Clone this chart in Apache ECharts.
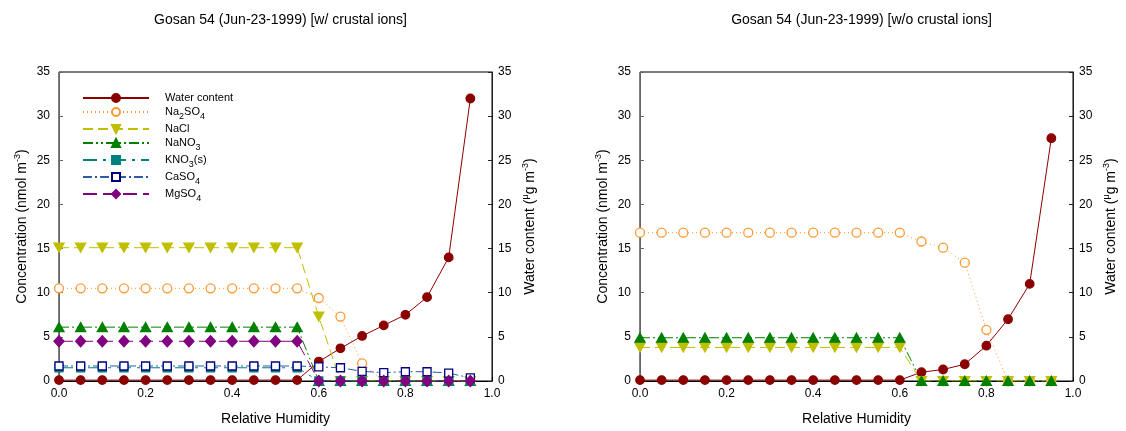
<!DOCTYPE html>
<html>
<head>
<meta charset="utf-8">
<script src="https://cdn.jsdelivr.net/npm/echarts@6/dist/echarts.min.js"></script>
<style>html,body{margin:0;padding:0;background:#fff}#c{width:1126px;height:431px}</style>
</head>
<body>
<div id="c"></div>
<script>
// Relative humidity (x values)
var rh = [0.00,0.05,0.10,0.15,0.20,0.25,0.30,0.35,0.40,0.45,0.50,0.55,0.60,0.65,0.70,0.75,0.80,0.85,0.90,0.95];
var xTicks = [0.0,0.2,0.4,0.6,0.8,1.0];
var yTicks = [0,5,10,15,20,25,30,35];

// Left panel: with crustal ions
var L_water  = [0.1,0.1,0.1,0.1,0.1,0.1,0.1,0.1,0.1,0.1,0.1,0.1,2.2,3.7,5.1,6.3,7.5,9.5,14.0,32.0];
var L_na2so4 = [10.5,10.5,10.5,10.5,10.5,10.5,10.5,10.5,10.5,10.5,10.5,10.5,9.4,7.3,2.0,0,0,0,0,0];
var L_nacl   = [15.1,15.1,15.1,15.1,15.1,15.1,15.1,15.1,15.1,15.1,15.1,15.1,7.3,0,0,0,0,0,0,0];
var L_nano3  = [6.1,6.1,6.1,6.1,6.1,6.1,6.1,6.1,6.1,6.1,6.1,6.1,0,0,0,0,0,0,0,0];
var L_kno3   = [1.5,1.5,1.5,1.5,1.5,1.5,1.5,1.5,1.5,1.5,1.5,1.5,0,0,0,0,0,0,0,0];
var L_caso4  = [1.7,1.7,1.7,1.7,1.7,1.7,1.7,1.7,1.7,1.7,1.7,1.7,1.6,1.5,1.1,0.95,1.05,1.05,0.9,0.35];
var L_mgso4  = [4.5,4.5,4.5,4.5,4.5,4.5,4.5,4.5,4.5,4.5,4.5,4.5,0,0,0,0,0,0,0,0];

// Right panel: without crustal ions
var R_water  = [0.1,0.1,0.1,0.1,0.1,0.1,0.1,0.1,0.1,0.1,0.1,0.1,0.1,1.0,1.3,1.9,4.0,7.0,11.0,27.5];
var R_na2so4 = [16.8,16.8,16.8,16.8,16.8,16.8,16.8,16.8,16.8,16.8,16.8,16.8,16.8,15.8,15.1,13.4,5.8,0,0,0];
var R_nacl   = [3.8,3.8,3.8,3.8,3.8,3.8,3.8,3.8,3.8,3.8,3.8,3.8,3.8,0,0,0,0,0,0,0];
var R_nano3  = [4.9,4.9,4.9,4.9,4.9,4.9,4.9,4.9,4.9,4.9,4.9,4.9,4.9,0,0,0,0,0,0,0];

var titles = ['Gosan 54 (Jun-23-1999) [w/ crustal ions]', 'Gosan 54 (Jun-23-1999) [w/o crustal ions]'];
var legendNames = ['Water content','Na2SO4','NaCl','NaNO3','KNO3(s)','CaSO4','MgSO4'];

function pairs(v){ return rh.map(function(x,i){ return [x, v[i]]; }); }

var FONT = 'Liberation Sans, Arial, sans-serif';
var styles = {
  'Water content': {color:'#8b0000', line:'#8b0000', type:'solid', symbol:'circle', size:8.5, fill:'#8b0000'},
  'Na2SO4': {color:'#ff9933', line:'#ff9933', type:[1,3], symbol:'circle', size:9, fill:'#ffffff'},
  'NaCl': {color:'#bfbf00', line:'#bfbf00', type:[10,5], symbol:'path://M0,0 L10,0 L5,9 Z', size:[10,9], fill:'#bfbf00'},
  'NaNO3': {color:'#008000', line:'#008000', type:[10,3,2,3,2,3], symbol:'triangle', size:[10,9], fill:'#008000'},
  'KNO3(s)': {color:'#008080', line:'#008080', type:[14,6,3,6], symbol:'rect', size:8, fill:'#008080'},
  'CaSO4': {color:'#000080', line:'#2a5ca8', type:[9,3,2,3], symbol:'rect', size:8, fill:'#ffffff'},
  'MgSO4': {color:'#800080', line:'#800080', type:[14,6], symbol:'diamond', size:[10,11], fill:'#800080'}
};

function mk(name, vals, xi, yi){
  var s = styles[name];
  return {
    name: name, type: 'line', xAxisIndex: xi, yAxisIndex: yi,
    data: pairs(vals), symbol: s.symbol, symbolSize: s.size, showAllSymbol: true,
    lineStyle: {color: s.line, width: 1, type: s.type},
    itemStyle: {color: s.fill, borderColor: s.color, borderWidth: 1.3},
    emphasis: {disabled: true}, animation: false
  };
}

var grids = [
  {left: 59, right: 1126-492, top: 72, bottom: 431-383, show: true, borderColor: '#000', borderWidth: 1},
  {left: 640, right: 1126-1073, top: 72, bottom: 431-383, show: true, borderColor: '#000', borderWidth: 1}
];

function xAx(gi){
  return {
    type: 'value', gridIndex: gi, min: xTicks[0], max: xTicks[xTicks.length-1], interval: 0.2,
    name: 'Relative Humidity', nameLocation: 'middle', nameGap: 31,
    nameTextStyle: {fontFamily: FONT, fontSize: 14, color: '#000'},
    axisLine: {lineStyle: {color: '#000', width: 1}},
    axisTick: {inside: true, length: 4, lineStyle: {color: '#000'}},
    axisLabel: {fontFamily: FONT, fontSize: 12, color: '#000', margin: 7, formatter: function(v){ return v.toFixed(1); }},
    splitLine: {show: false}
  };
}
var richName = {
  a: {fontFamily: FONT, fontSize: 14, color: '#000', lineHeight: 18, verticalAlign: 'middle'},
  sup: {fontFamily: FONT, fontSize: 9, color: '#000', lineHeight: 9, verticalAlign: 'top'}
};
function yAx(gi, pos, name, lineColor){
  return {
    type: 'value', gridIndex: gi, position: pos, min: yTicks[0], max: yTicks[yTicks.length-1], interval: 5,
    name: name, nameLocation: 'middle', nameRotate: 90, nameGap: pos === 'left' ? 28 : 29,
    nameTextStyle: {rich: richName},
    axisLine: {show: true, lineStyle: {color: lineColor, width: 1}},
    axisTick: {show: true, inside: true, length: 4, lineStyle: {color: lineColor}},
    axisLabel: {fontFamily: FONT, fontSize: 12, color: '#000', margin: pos === 'left' ? 9 : 6},
    splitLine: {show: false}
  };
}
var concName = '{a|Concentration (nmol m}{sup|-3}{a|)}';
var waterName = '{a|Water content (}{sup|μ}{a|g m}{sup|-3}{a|)}';

var subMap = {
  'Water content': '{sp|}{t|Water content}',
  'Na2SO4': '{sp|}{t|Na}{sub|2}{t|SO}{sub|4}',
  'NaCl': '{sp|}{t|NaCl}',
  'NaNO3': '{sp|}{t|NaNO}{sub|3}',
  'KNO3(s)': '{sp|}{t|KNO}{sub|3}{t|(s)}',
  'CaSO4': '{sp|}{t|CaSO}{sub|4}',
  'MgSO4': '{sp|}{t|MgSO}{sub|4}'
};

var series = [
  mk('Water content', L_water, 0, 1),
  mk('Na2SO4', L_na2so4, 0, 0),
  mk('NaCl', L_nacl, 0, 0),
  mk('NaNO3', L_nano3, 0, 0),
  mk('KNO3(s)', L_kno3, 0, 0),
  mk('CaSO4', L_caso4, 0, 0),
  mk('MgSO4', L_mgso4, 0, 0),
  mk('Water content', R_water, 1, 3),
  mk('Na2SO4', R_na2so4, 1, 2),
  mk('NaCl', R_nacl, 1, 2),
  mk('NaNO3', R_nano3, 1, 2)
];

var chart = echarts.init(document.getElementById('c'), null, {renderer: 'canvas'});
chart.setOption({
  backgroundColor: '#fff',
  animation: false,
  title: [
    {text: titles[0], left: 275.5, textAlign: 'center', top: 8, textStyle: {fontFamily: FONT, fontSize: 14, fontWeight: 'normal', color: '#000'}},
    {text: titles[1], left: 856.5, textAlign: 'center', top: 8, textStyle: {fontFamily: FONT, fontSize: 14, fontWeight: 'normal', color: '#000'}}
  ],
  legend: {
    data: legendNames, orient: 'vertical', left: 82, top: 92, padding: 0, itemWidth: 66, itemHeight: 10, itemGap: 2,
    selectedMode: false,
    formatter: function(n){ return subMap[n]; },
    textStyle: {
      rich: {
        sp: {width: 11, lineHeight: 18},
        t: {fontFamily: FONT, fontSize: 11, color: '#000', lineHeight: 12, verticalAlign: 'middle'},
        sub: {fontFamily: FONT, fontSize: 9, color: '#000', lineHeight: 9, verticalAlign: 'bottom'}
      }
    }
  },
  grid: grids,
  xAxis: [xAx(0), xAx(1)],
  yAxis: [
    yAx(0, 'left', concName, '#666'),
    yAx(0, 'right', waterName, '#222'),
    yAx(1, 'left', concName, '#666'),
    yAx(1, 'right', waterName, '#222')
  ],
  series: series
});
</script>
</body>
</html>
